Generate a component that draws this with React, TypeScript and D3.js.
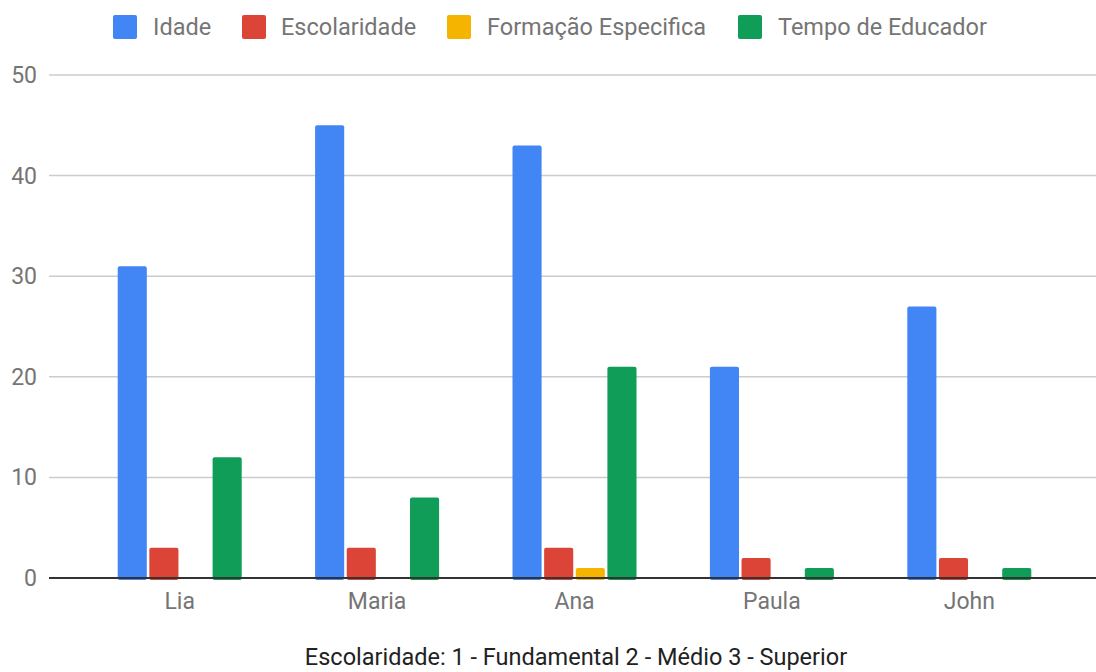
import React from 'react';
import * as d3 from 'd3';

// Chart data
const pessoas = ['Lia', 'Maria', 'Ana', 'Paula', 'John'];
const idade = [31, 45, 43, 21, 27];
const escolaridade = [3, 3, 3, 2, 2];
const formacaoEspecifica = [0, 0, 1, 0, 0];
const tempoEducador = [12, 8, 21, 1, 1];
const seriesNames = ['Idade', 'Escolaridade', 'Formação Especifica', 'Tempo de Educador'];
const seriesColors = ['#4285f4', '#db4437', '#f4b400', '#0f9d58'];
const yTicks = [0, 10, 20, 30, 40, 50];
const axisTitle = 'Escolaridade: 1 - Fundamental 2 - Médio 3 - Superior';

const width = 1096;
const height = 672;
const font = 'Roboto, "Noto Sans", sans-serif';

const App = () => {
  const series = [idade, escolaridade, formacaoEspecifica, tempoEducador];

  // Scales
  const yScale = d3.scaleLinear().domain([0, 50]).range([578, 75]);
  const xScale = d3.scaleBand().domain(pessoas).range([81, 1068]).padding(0);
  const inner = d3
    .scaleBand<number>()
    .domain(d3.range(series.length))
    .range([0, 124])
    .paddingInner(0.08);
  const groupOffset = (xScale.bandwidth() - 124) / 2;

  // Legend positions
  const legend = [
    { sx: 113, tx: 153 },
    { sx: 242, tx: 281 },
    { sx: 447, tx: 487 },
    { sx: 738, tx: 778 },
  ];

  return (
    <svg
      width={width}
      height={height}
      style={{ position: 'absolute', left: 0, top: 0, background: '#fff' }}
      fontFamily={font}
    >
      {/* Legend */}
      {seriesNames.map((name, i) => (
        <g key={name}>
          <rect x={legend[i].sx} y={15} width={24} height={24} rx={2} fill={seriesColors[i]} />
          <text x={legend[i].tx} y={27} dy="0.35em" fontSize={23.5} fill="#757575">
            {name}
          </text>
        </g>
      ))}

      {/* Gridlines and y labels */}
      {yTicks.map((t) => (
        <g key={t}>
          {t > 0 && (
            <line x1={49} x2={1096} y1={yScale(t)} y2={yScale(t)} stroke="#cccccc" strokeWidth={1.5} />
          )}
          <text x={37} y={yScale(t)} dy="0.35em" textAnchor="end" fontSize={23} fill="#757575">
            {t}
          </text>
        </g>
      ))}

      {/* Bars */}
      {pessoas.map((p, pi) => (
        <g key={p} transform={`translate(${(xScale(p) ?? 0) + groupOffset},0)`}>
          {series.map((s, si) =>
            s[pi] > 0 ? (
              <rect
                key={si}
                x={inner(si)}
                y={yScale(s[pi])}
                width={inner.bandwidth()}
                height={yScale(0) - yScale(s[pi]) + 2}
                rx={2}
                fill={seriesColors[si]}
              />
            ) : null
          )}
        </g>
      ))}

      {/* Baseline */}
      <line x1={49} x2={1096} y1={yScale(0)} y2={yScale(0)} stroke="#333333" strokeWidth={2} />

      {/* Category labels */}
      {pessoas.map((p) => (
        <text
          key={p}
          x={(xScale(p) ?? 0) + xScale.bandwidth() / 2}
          y={601}
          dy="0.35em"
          textAnchor="middle"
          fontSize={23}
          fill="#757575"
        >
          {p}
        </text>
      ))}

      {/* Axis title */}
      <text x={576} y={665} textAnchor="middle" fontSize={23.5} fill="#222222">
        {axisTitle}
      </text>
    </svg>
  );
};

export default App;
